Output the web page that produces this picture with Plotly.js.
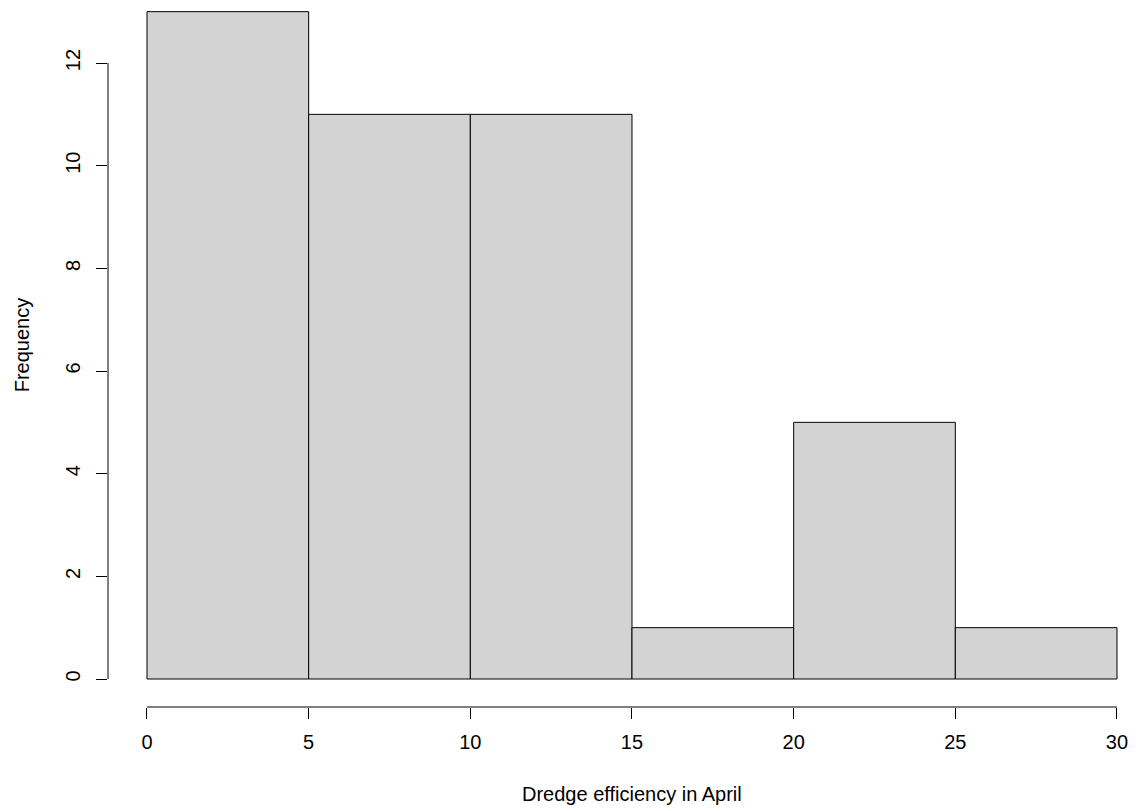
<!DOCTYPE html>
<html>
<head>
<meta charset="utf-8">
<script src="https://cdn.plot.ly/plotly-3.0.1.min.js"></script>
<style>html,body{margin:0;padding:0;background:#fff;}#chart{width:1136px;height:811px;}</style>
</head>
<body>
<div id="chart"></div>
<script>
// Histogram of dredge efficiency in April
const binStarts = [0, 5, 10, 15, 20, 25];
const binWidth = 5;
const counts = [13, 11, 11, 1, 5, 1];
const xTickVals = [0, 5, 10, 15, 20, 25, 30];
const yTickVals = [0, 2, 4, 6, 8, 10, 12];
const xTitle = "Dredge efficiency in April";
const yTitle = "Frequency";

const centers = binStarts.map(s => s + binWidth / 2);
const FONT = "Liberation Sans, Arial, sans-serif";

const trace = {
  type: "bar",
  x: centers,
  y: counts,
  width: binStarts.map(() => binWidth),
  marker: {color: "#d3d3d3", line: {color: "#000", width: 1}},
  hoverinfo: "x+y"
};

const layout = {
  width: 1136, height: 811,
  margin: {l: 108, r: 0, t: 0, b: 104},
  paper_bgcolor: "#fff", plot_bgcolor: "#fff",
  showlegend: false,
  font: {family: FONT, size: 20, color: "#000"},
  xaxis: {
    range: [-1.206, 30.588],
    tickmode: "array", tickvals: xTickVals, ticktext: xTickVals.map(String),
    ticks: "outside", ticklen: 11, tickwidth: 1, tickcolor: "#000",
    showline: false, showgrid: false, zeroline: false,
    ticklabelstandoff: 6,
    tickfont: {family: FONT, size: 20, color: "#000"}
  },
  yaxis: {
    range: [-0.5455, 13.2273],
    tickmode: "array", tickvals: yTickVals, ticktext: yTickVals.map(String),
    ticks: "outside", ticklen: 11, tickwidth: 1, tickcolor: "#000",
    tickangle: -90,
    showline: false, showgrid: false, zeroline: false,
    ticklabelstandoff: 8,
    tickfont: {family: FONT, size: 20, color: "#000"}
  },
  shapes: [
    {type: "line", xref: "x", yref: "paper", x0: xTickVals[0], x1: xTickVals[xTickVals.length - 1], y0: 0, y1: 0,
     line: {color: "#000", width: 1}},
    {type: "line", xref: "paper", yref: "y", x0: 0, x1: 0, y0: yTickVals[0], y1: yTickVals[yTickVals.length - 1],
     line: {color: "#000", width: 1}}
  ],
  annotations: [
    {text: xTitle, xref: "x", yref: "paper", x: 15, y: 0, yshift: -87, xanchor: "center", yanchor: "middle",
     showarrow: false, font: {family: FONT, size: 20, color: "#000"}},
    {text: yTitle, xref: "paper", yref: "y", x: 0, y: 6.5, xshift: -86, xanchor: "center", yanchor: "middle",
     textangle: -90, showarrow: false, font: {family: FONT, size: 20, color: "#000"}}
  ]
};

Plotly.newPlot("chart", [trace], layout, {displayModeBar: false, staticPlot: true});
</script>
</body>
</html>
